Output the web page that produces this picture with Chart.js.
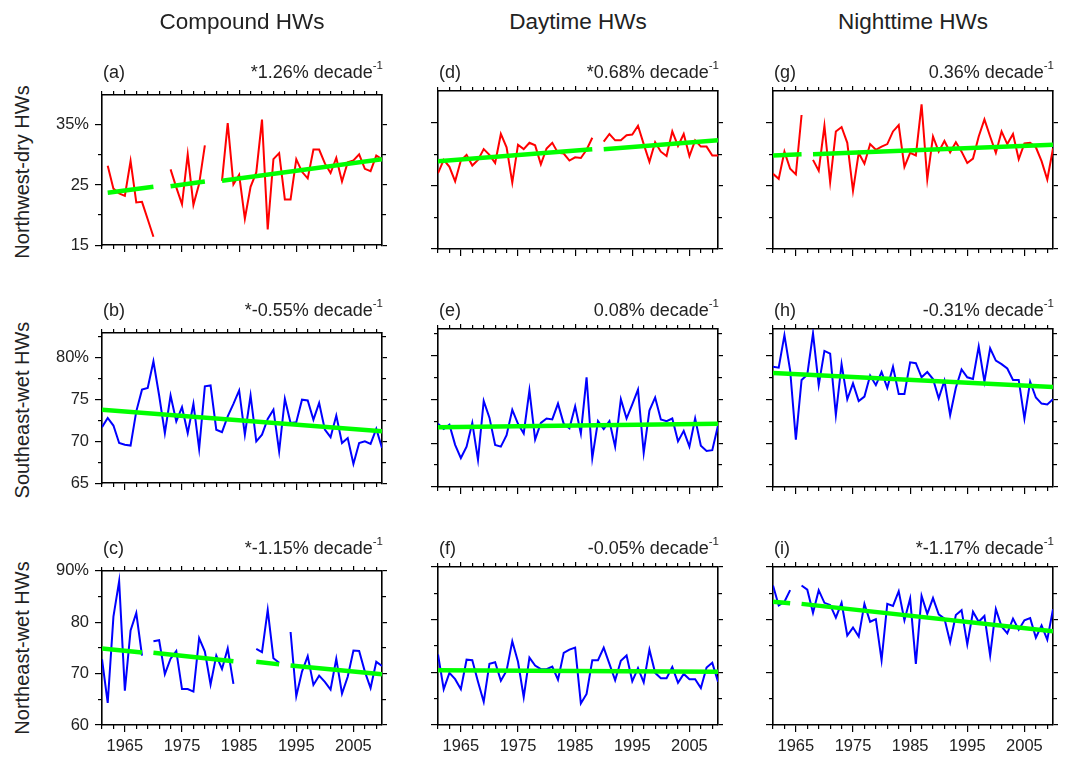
<!DOCTYPE html>
<html>
<head>
<meta charset="utf-8">
<script src="https://cdn.jsdelivr.net/npm/chart.js@4.4.0/dist/chart.umd.min.js"></script>
<style>
body{margin:0;background:#fff;width:1084px;height:758px;position:relative;overflow:hidden;font-family:"Liberation Sans",Arial,Helvetica,sans-serif;color:#222;}
canvas{position:absolute;}
.txt{position:absolute;white-space:nowrap;}
.coltitle{font-size:22.5px;line-height:26px;width:280px;text-align:center;}
.plabel{font-size:18px;line-height:20px;}
.trend{font-size:18px;line-height:20px;text-align:right;}
.trend sup{font-size:11.5px;line-height:0;position:relative;top:-2px;}
.rowlabel{font-size:20px;line-height:24px;width:220px;text-align:center;transform:rotate(-90deg);transform-origin:center;}
</style>
</head>
<body>
<script>
// 年（横軸）
const YEARS = [1961,1962,1963,1964,1965,1966,1967,1968,1969,1970,
               1971,1972,1973,1974,1975,1976,1977,1978,1979,1980,
               1981,1982,1983,1984,1985,1986,1987,1988,1989,1990,
               1991,1992,1993,1994,1995,1996,1997,1998,1999,2000,
               2001,2002,2003,2004,2005,2006,2007,2008,2009,2010];
const X_MAJOR = [1965, 1975, 1985, 1995, 2005];
const X_MINOR = [1961,1963,1967,1969,1971,1973,1977,1979,1981,1983,1987,1989,1991,1993,1997,1999,2001,2003,2007,2009];

// 縦軸（行ごと）
const Y_RANGE = [[15, 40], [65, 83], [60, 90]];
const Y_MAJOR = [[15, 25, 35], [65, 70, 75, 80], [60, 70, 80, 90]];
const Y_MINOR = [[20, 30], [67.5, 72.5, 77.5, 82.5], [65, 75, 85]];

const COL_TITLES = ["Compound HWs", "Daytime HWs", "Nighttime HWs"];
const ROW_TITLES = ["Northwest-dry HWs", "Southeast-wet HWs", "Northeast-wet HWs"];

// Northwest-dry
const compNW = [null,28.2,24.4,23.6,23.2,29.0,22.1,22.2,19.3,16.4,
                null,null,27.6,24.6,21.8,30.1,21.7,25.2,31.6,null,
                null,25.7,35.3,25.1,26.7,19.4,24.7,27.1,35.9,17.6,
                29.3,30.3,22.6,22.6,29.3,27.2,26.1,30.9,30.9,28.6,
                27.0,29.5,25.6,28.8,29.1,30.1,27.7,27.3,29.9,29.3];
const dayNW = [27.0,29.1,28.0,25.7,29.0,29.9,28.2,29.1,30.8,29.9,
               28.6,33.2,31.1,25.5,31.5,30.8,31.8,31.4,28.4,30.9,
               31.8,30.2,30.1,29.0,29.5,29.4,30.7,32.6,null,32.0,
               33.2,32.2,32.2,33.0,33.1,34.5,31.6,28.8,31.9,30.4,
               29.7,33.6,31.3,33.2,29.7,32.2,31.2,31.2,29.8,29.8];
const nightNW = [26.9,26.1,30.4,27.7,26.8,36.2,null,29.1,27.4,34.5,
                 25.6,33.6,34.3,31.8,24.2,30.2,28.5,31.6,30.7,31.2,
                 31.6,33.6,34.6,28.0,30.2,29.8,37.9,26.0,32.8,30.4,
                 32.1,30.3,31.9,30.4,28.6,29.3,32.8,35.5,32.8,30.2,
                 33.6,31.6,33.2,29.2,31.7,31.8,31.1,28.9,26.0,30.9];

// Southeast-wet
const compSE = [71.7,72.8,71.9,69.8,69.6,69.5,73.6,76.2,76.4,79.6,
                75.5,71.0,75.5,72.4,74.1,71.0,74.5,69.1,76.6,76.7,
                71.4,71.1,73.0,74.5,76.1,70.8,75.5,70.0,70.8,72.7,
                73.8,68.8,75.1,72.2,72.3,75.0,74.9,72.6,74.6,71.4,
                70.5,73.1,69.8,70.4,67.3,69.8,70.0,69.7,71.5,69.2];
const daySE = [72.2,71.6,72.1,69.8,68.3,69.6,72.3,68.1,74.8,72.9,
               69.8,69.6,70.9,73.8,72.2,71.1,76.0,70.4,72.3,72.8,
               72.7,74.5,72.2,71.7,74.2,71.1,77.5,68.3,72.5,71.6,
               72.5,69.6,75.0,72.8,74.4,76.1,68.9,73.7,75.2,72.7,
               72.5,72.8,70.2,71.4,69.6,72.8,69.7,69.1,69.2,72.0];
const nightSE = [78.7,78.6,82.3,78.3,70.4,77.2,77.8,82.5,76.6,80.5,
                 80.2,73.2,79.0,75.0,76.8,74.8,75.3,77.7,76.6,78.1,
                 76.3,78.7,75.6,75.6,79.2,79.1,77.5,78.1,77.3,75.1,
                 77.1,73.2,76.3,78.4,77.5,77.3,81.0,77.0,80.8,79.4,
                 79.0,78.5,77.2,77.2,72.8,77.0,75.2,74.5,74.4,75.0];

// Northeast-wet
const compNE = [72.8,64.3,81.1,88.0,66.7,78.4,81.8,73.5,null,76.3,
                76.5,69.9,72.9,74.4,67.0,67.0,66.5,76.9,74.3,67.9,
                73.5,70.9,74.9,68.0,null,null,null,74.8,74.2,82.4,
                73.0,72.1,null,78.1,65.6,70.4,73.4,67.8,69.6,68.4,
                66.9,72.9,66.1,69.4,74.5,74.4,70.4,67.2,72.3,71.5];
const dayNE = [73.4,66.8,69.9,68.7,66.8,72.4,72.3,68.2,64.4,71.6,
               71.9,68.4,70.3,75.9,72.0,65.3,72.8,71.3,70.6,70.6,
               71.1,68.6,73.7,74.3,74.7,64.1,65.9,72.3,72.3,74.7,
               71.6,68.5,72.2,73.2,68.3,70.8,68.1,74.3,69.9,68.9,
               68.9,71.0,68.0,69.7,68.7,68.7,67.0,70.9,71.8,68.2];
const nightNE = [86.5,82.7,83.4,85.6,null,86.5,85.7,81.3,85.6,83.2,
                 82.8,80.4,83.2,77.0,78.5,76.8,83.0,79.6,80.1,72.3,
                 83.0,82.6,85.4,79.9,84.0,71.6,84.5,81.1,84.1,81.0,
                 80.2,75.7,80.9,81.8,75.3,81.5,79.6,80.7,73.2,82.0,
                 78.7,77.4,80.2,78.1,79.9,80.3,76.6,78.9,76.2,82.0];

// トレンド線 [開始年, 開始値, 終了年, 終了値]
const trendCompNW  = [[1962,23.7,1970,24.7],[1973,24.8,1979,25.6],[1982,25.7,2010,29.3]];
const trendDayNW   = [[1961,28.9,1988,30.8],[1990,30.8,2010,32.2]];
const trendNightNW = [[1961,29.8,1966,30.0],[1968,30.0,2010,31.5]];
const trendCompSE  = [[1961,73.8,2010,71.2]];
const trendDaySE   = [[1961,71.8,2010,72.2]];
const trendNightSE = [[1961,78.0,2010,76.4]];
const trendCompNE  = [[1961,74.9,1968,74.1],[1970,74.05,1984,72.4],[1988,72.3,1992,71.8],[1994,71.6,2010,69.9]];
const trendDayNE   = [[1961,70.4,2010,70.1]];
const trendNightNE = [[1961,83.4,1964,83.1],[1966,83.0,2010,77.8]];

const RATES = ["*1.26%", "*0.68%", "0.36%",
               "*-0.55%", "0.08%", "-0.31%",
               "*-1.15%", "-0.05%", "*-1.17%"];

const PANELS = [
    {tag:"(a)", row:0, col:0, values:compNW,  trend:trendCompNW,  color:"#ff0000"},
    {tag:"(d)", row:0, col:1, values:dayNW,   trend:trendDayNW,   color:"#ff0000"},
    {tag:"(g)", row:0, col:2, values:nightNW, trend:trendNightNW, color:"#ff0000"},
    {tag:"(b)", row:1, col:0, values:compSE,  trend:trendCompSE,  color:"#0000ff"},
    {tag:"(e)", row:1, col:1, values:daySE,   trend:trendDaySE,   color:"#0000ff"},
    {tag:"(h)", row:1, col:2, values:nightSE, trend:trendNightSE, color:"#0000ff"},
    {tag:"(c)", row:2, col:0, values:compNE,  trend:trendCompNE,  color:"#0000ff"},
    {tag:"(f)", row:2, col:1, values:dayNE,   trend:trendDayNE,   color:"#0000ff"},
    {tag:"(i)", row:2, col:2, values:nightNE, trend:trendNightNE, color:"#0000ff"}
];

// レイアウト
const COL_LEFT = [102, 438, 773];
const ROW_TOP = [91, 329, 567];
const PLOT_W = 280;
const PLOT_H = 158;
const TICK_FONT = {family: '"Liberation Sans", Arial, sans-serif', size: 16.5};

function addText(cls, html, css){
    let d = document.createElement('div');
    d.className = 'txt ' + cls;
    d.innerHTML = html;
    Object.assign(d.style, css);
    document.body.appendChild(d);
}

// 軸（目盛りだけ）を作る
function tickAxis(axis, position, min, max, values, len, size, weight, labels){
    return {
        type: 'linear', axis: axis, position: position, min: min, max: max, weight: weight,
        afterBuildTicks: function(s){ s.ticks = values.map(v => ({value: v})); },
        afterFit: function(s){ if(axis == 'x'){ s.height = size; }else{ s.width = size; } },
        grid: {drawOnChartArea: false, drawTicks: true, tickLength: len, color: '#000', lineWidth: 1.2},
        border: {display: weight == 0, color: '#000', width: 1.6},
        ticks: labels ? {
            display: true, autoSkip: false, maxRotation: 0, padding: axis == 'x' ? 5 : 6,
            color: '#222', font: TICK_FONT, callback: labels
        } : {display: false}
    };
}

PANELS.forEach(function(p, idx){
    let padL = p.col == 0 ? 62 : 12;
    let padB = p.row == 2 ? 36 : 12;
    let padT = 12, padR = 12;
    let yr = Y_RANGE[p.row];

    let cv = document.createElement('canvas');
    cv.width = padL + PLOT_W + padR;
    cv.height = padT + PLOT_H + padB;
    cv.style.left = (COL_LEFT[p.col] - padL) + 'px';
    cv.style.top = (ROW_TOP[p.row] - padT) + 'px';
    document.body.appendChild(cv);

    let datasets = [];
    // トレンド（緑）を上に描く
    p.trend.forEach(function(seg){
        datasets.push({
            data: [{x: seg[0], y: seg[1]}, {x: seg[2], y: seg[3]}],
            borderColor: '#00ff00', borderWidth: 4.5, pointRadius: 0, order: 0
        });
    });
    datasets.push({
        data: YEARS.map((y, i) => ({x: y, y: p.values[i]})),
        borderColor: p.color, borderWidth: 2, pointRadius: 0, spanGaps: false, order: 1
    });

    let topLabel = Y_MAJOR[p.row][Y_MAJOR[p.row].length - 1];
    let yLabels = p.col == 0 ? function(v){ return v == topLabel ? v + '%' : '' + v; } : null;
    let xLabels = p.row == 2 ? function(v){ return '' + v; } : null;

    new Chart(cv.getContext('2d'), {
        type: 'line',
        data: {datasets: datasets},
        options: {
            responsive: false, animation: false, devicePixelRatio: 1,
            layout: {padding: 0},
            plugins: {legend: {display: false}, tooltip: {enabled: false}},
            scales: {
                x: tickAxis('x', 'bottom', 1961, 2010, X_MAJOR, 7, padB, 0, xLabels),
                xMinor: tickAxis('x', 'bottom', 1961, 2010, X_MINOR, 4, 0, -10, null),
                xTop: tickAxis('x', 'top', 1961, 2010, X_MAJOR, 5, padT, 0, null),
                xTopMinor: tickAxis('x', 'top', 1961, 2010, X_MINOR, 4, 0, -10, null),
                y: tickAxis('y', 'left', yr[0], yr[1], Y_MAJOR[p.row], 7, padL, 0, yLabels),
                yMinor: tickAxis('y', 'left', yr[0], yr[1], Y_MINOR[p.row], 4, 0, -10, null),
                yRight: tickAxis('y', 'right', yr[0], yr[1], Y_MAJOR[p.row], 5, padR, 0, null),
                yRightMinor: tickAxis('y', 'right', yr[0], yr[1], Y_MINOR[p.row], 4, 0, -10, null)
            }
        }
    });

    // パネル記号とトレンド値
    addText('plabel', p.tag, {left: (COL_LEFT[p.col] + 1) + 'px', top: (ROW_TOP[p.row] - 29) + 'px'});
    addText('trend', RATES[idx] + ' decade<sup>-1</sup>',
        {left: (COL_LEFT[p.col] + PLOT_W - 220 + 1) + 'px', width: '220px', top: (ROW_TOP[p.row] - 29) + 'px'});
});

// 列タイトル・行タイトル
COL_TITLES.forEach(function(t, c){
    addText('coltitle', t, {left: COL_LEFT[c] + 'px', top: '9px'});
});
ROW_TITLES.forEach(function(t, r){
    let cy = ROW_TOP[r] + PLOT_H / 2 + 2;
    addText('rowlabel', t, {left: (22 - 110) + 'px', top: (cy - 12) + 'px'});
});
</script>
</body>
</html>
